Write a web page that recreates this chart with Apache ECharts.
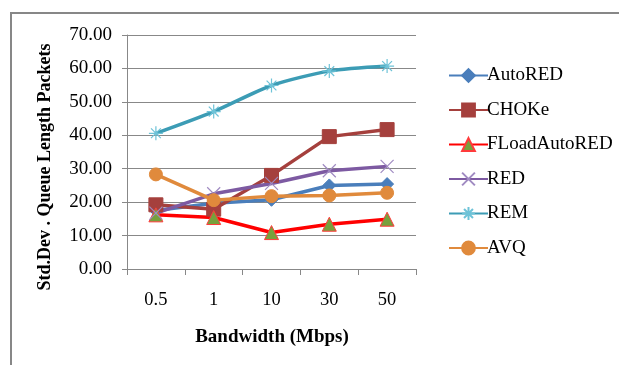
<!DOCTYPE html>
<html><head><meta charset="utf-8">
<script src="https://cdn.jsdelivr.net/npm/echarts@6/dist/echarts.min.js"></script>
<style>html,body{margin:0;padding:0;background:#fff}#c{width:619px;height:365px}</style>
</head><body><div id="c"></div>
<script>
const categories = ['0.5', '1', '10', '30', '50'];
const autoRED = [17.5, 19.7, 20.7, 25.0, 25.4];
const choke = [19.2, 17.9, 28.0, 39.6, 41.7];
const floadAutoRED = [16.2, 15.4, 10.9, 13.4, 14.9];
const red = [16.7, 22.5, 25.6, 29.4, 30.7];
const rem = [40.6, 47.1, 54.9, 59.2, 60.7];
const avq = [28.3, 20.6, 21.8, 22.0, 22.8];
const yTicks = [0, 10, 20, 30, 40, 50, 60, 70];

const font = '"Liberation Serif","Times New Roman",serif';
const chart = echarts.init(document.getElementById('c'));
function s(name, data, color, symbol, size, opts) {
  return Object.assign({
    name, type: 'line', data, symbol, symbolSize: size,
    lineStyle: {color, width: 3.5},
    itemStyle: {color, borderColor: color, borderWidth: 1},
    emphasis: {disabled: true}, animation: false
  }, opts || {});
}
chart.setOption({
  animation: false,
  graphic: [
    {type: 'rect', shape: {x: 11, y: 13, width: 640, height: 400},
      style: {fill: 'none', stroke: '#878787', lineWidth: 2}, silent: true, z: -1},
    {type: 'text', x: 45, y: 167, rotation: Math.PI / 2, silent: true,
      style: {text: 'Std.Dev . Queue Length Packets', font: 'bold 18px ' + font,
        fill: '#000', align: 'center', verticalAlign: 'middle'}},
    {type: 'text', x: 272, y: 337, silent: true,
      style: {text: 'Bandwidth (Mbps)', font: 'bold 19px ' + font,
        fill: '#000', align: 'center', verticalAlign: 'middle'}}
  ],
  grid: {left: 127, top: 35, width: 289, height: 234},
  legend: {
    orient: 'vertical', left: 443, top: 61, itemGap: 15.5, itemWidth: 39, itemHeight: 16,
    textStyle: {fontFamily: font, fontSize: 19, color: '#000', padding: [0, 0, 0, -6]},
    data: ['AutoRED', 'CHOKe', 'FLoadAutoRED', 'RED', 'REM', 'AVQ']
  },
  xAxis: {
    type: 'category', data: categories, boundaryGap: true,
    axisLine: {lineStyle: {color: '#888', width: 1}},
    axisTick: {show: true, length: 6, lineStyle: {color: '#888'}},
    axisLabel: {fontFamily: font, fontSize: 18.5, color: '#000', margin: 22}
  },
  yAxis: {
    type: 'value', min: 0, max: 70, interval: 10,
    axisLine: {show: true, lineStyle: {color: '#888'}},
    axisTick: {show: true, length: 5, lineStyle: {color: '#888'}},
    splitLine: {lineStyle: {color: '#888', width: 1}},
    axisLabel: {fontFamily: font, fontSize: 19, color: '#000', margin: 15,
      formatter: v => yTicks.includes(v) ? v.toFixed(2) : ''}
  },
  series: [
    s('AutoRED', autoRED, '#4a7ebb', 'diamond', 13),
    s('CHOKe', choke, '#a5403d', 'rect', 14),
    s('FLoadAutoRED', floadAutoRED, '#ff0000', 'triangle', 14,
      {itemStyle: {color: '#77a03c', borderColor: '#ff3b3b', borderWidth: 1}}),
    s('RED', red, '#7d5aa2', 'path://M0,0L10,10M10,0L0,10', 13,
      {itemStyle: {color: 'none', borderColor: '#a08bc2', borderWidth: 1.2}}),
    s('REM', rem, '#3c9cb5', 'path://M0,5L10,5M5,0L5,10M1.5,1.5L8.5,8.5M8.5,1.5L1.5,8.5', 14,
      {smooth: 0.25, itemStyle: {color: 'none', borderColor: '#6ec3d8', borderWidth: 1.2}}),
    s('AVQ', avq, '#e08a3c', 'circle', 13)
  ]
});
</script></body></html>
